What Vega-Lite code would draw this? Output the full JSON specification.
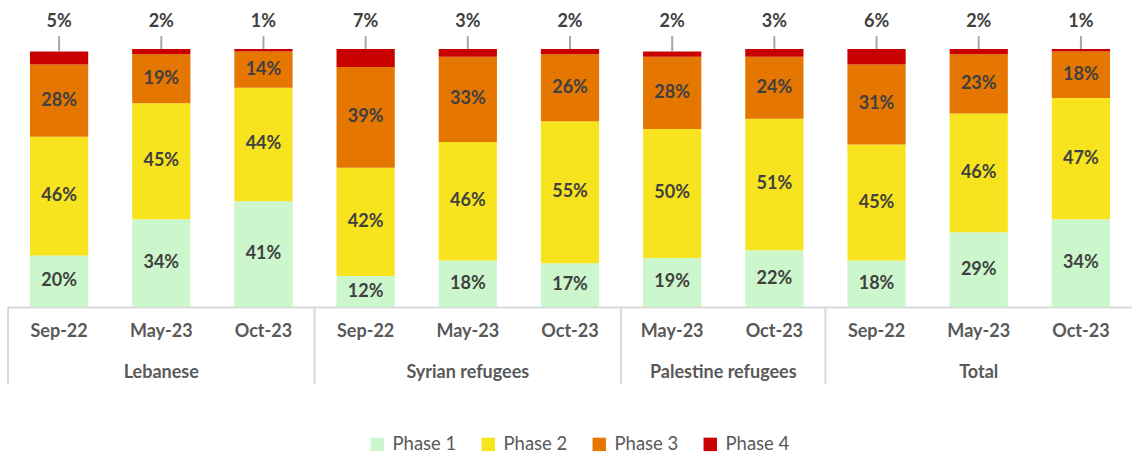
{
  "$schema": "https://vega.github.io/schema/vega-lite/v6.json",
  "width": 1124,
  "height": 258,
  "autosize": {"type": "none"},
  "padding": {"left": 8, "top": 49, "right": 0, "bottom": 152},
  "background": "white",
  "config": {"view": {"stroke": null}, "font": "Lato"},
  "datasets": {
    "bars": [
      {"bar": "Lebanese|Sep-22", "phase": "Phase 1", "value": 0.20},
      {"bar": "Lebanese|Sep-22", "phase": "Phase 2", "value": 0.46},
      {"bar": "Lebanese|Sep-22", "phase": "Phase 3", "value": 0.28},
      {"bar": "Lebanese|Sep-22", "phase": "Phase 4", "value": 0.05},
      {"bar": "Lebanese|May-23", "phase": "Phase 1", "value": 0.34},
      {"bar": "Lebanese|May-23", "phase": "Phase 2", "value": 0.45},
      {"bar": "Lebanese|May-23", "phase": "Phase 3", "value": 0.19},
      {"bar": "Lebanese|May-23", "phase": "Phase 4", "value": 0.02},
      {"bar": "Lebanese|Oct-23", "phase": "Phase 1", "value": 0.41},
      {"bar": "Lebanese|Oct-23", "phase": "Phase 2", "value": 0.44},
      {"bar": "Lebanese|Oct-23", "phase": "Phase 3", "value": 0.14},
      {"bar": "Lebanese|Oct-23", "phase": "Phase 4", "value": 0.01},
      {"bar": "Syrian refugees|Sep-22", "phase": "Phase 1", "value": 0.12},
      {"bar": "Syrian refugees|Sep-22", "phase": "Phase 2", "value": 0.42},
      {"bar": "Syrian refugees|Sep-22", "phase": "Phase 3", "value": 0.39},
      {"bar": "Syrian refugees|Sep-22", "phase": "Phase 4", "value": 0.07},
      {"bar": "Syrian refugees|May-23", "phase": "Phase 1", "value": 0.18},
      {"bar": "Syrian refugees|May-23", "phase": "Phase 2", "value": 0.46},
      {"bar": "Syrian refugees|May-23", "phase": "Phase 3", "value": 0.33},
      {"bar": "Syrian refugees|May-23", "phase": "Phase 4", "value": 0.03},
      {"bar": "Syrian refugees|Oct-23", "phase": "Phase 1", "value": 0.17},
      {"bar": "Syrian refugees|Oct-23", "phase": "Phase 2", "value": 0.55},
      {"bar": "Syrian refugees|Oct-23", "phase": "Phase 3", "value": 0.26},
      {"bar": "Syrian refugees|Oct-23", "phase": "Phase 4", "value": 0.02},
      {"bar": "Palestine refugees|May-23", "phase": "Phase 1", "value": 0.19},
      {"bar": "Palestine refugees|May-23", "phase": "Phase 2", "value": 0.50},
      {"bar": "Palestine refugees|May-23", "phase": "Phase 3", "value": 0.28},
      {"bar": "Palestine refugees|May-23", "phase": "Phase 4", "value": 0.02},
      {"bar": "Palestine refugees|Oct-23", "phase": "Phase 1", "value": 0.22},
      {"bar": "Palestine refugees|Oct-23", "phase": "Phase 2", "value": 0.51},
      {"bar": "Palestine refugees|Oct-23", "phase": "Phase 3", "value": 0.24},
      {"bar": "Palestine refugees|Oct-23", "phase": "Phase 4", "value": 0.03},
      {"bar": "Total|Sep-22", "phase": "Phase 1", "value": 0.18},
      {"bar": "Total|Sep-22", "phase": "Phase 2", "value": 0.45},
      {"bar": "Total|Sep-22", "phase": "Phase 3", "value": 0.31},
      {"bar": "Total|Sep-22", "phase": "Phase 4", "value": 0.06},
      {"bar": "Total|May-23", "phase": "Phase 1", "value": 0.29},
      {"bar": "Total|May-23", "phase": "Phase 2", "value": 0.46},
      {"bar": "Total|May-23", "phase": "Phase 3", "value": 0.23},
      {"bar": "Total|May-23", "phase": "Phase 4", "value": 0.02},
      {"bar": "Total|Oct-23", "phase": "Phase 1", "value": 0.34},
      {"bar": "Total|Oct-23", "phase": "Phase 2", "value": 0.47},
      {"bar": "Total|Oct-23", "phase": "Phase 3", "value": 0.18},
      {"bar": "Total|Oct-23", "phase": "Phase 4", "value": 0.01}
    ],
    "groups": [
      {"group": "Lebanese", "mid": 1.5},
      {"group": "Syrian refugees", "mid": 4.5},
      {"group": "Palestine refugees", "mid": 7},
      {"group": "Total", "mid": 9.5}
    ],
    "edges": [{"edge": 0}, {"edge": 3}, {"edge": 6}, {"edge": 8}]
  },
  "resolve": {"scale": {"x": "independent"}, "axis": {"x": "independent"}},
  "layer": [
    {
      "data": {"name": "bars"},
      "mark": {"type": "bar"},
      "encoding": {
        "x": {
          "field": "bar", "type": "nominal",
          "scale": {"domain": ["Lebanese|Sep-22", "Lebanese|May-23", "Lebanese|Oct-23", "Syrian refugees|Sep-22", "Syrian refugees|May-23", "Syrian refugees|Oct-23", "Palestine refugees|May-23", "Palestine refugees|Oct-23", "Total|Sep-22", "Total|May-23", "Total|Oct-23"], "paddingInner": 0.43, "paddingOuter": 0.215},
          "axis": {"title": null, "labelExpr": "split(datum.label, '|')[1]", "ticks": false, "labelAngle": 0, "domainColor": "#d9d9d9", "domainWidth": 2, "labelFont": "Lato", "labelFontSize": 18, "labelFontWeight": "bold", "labelColor": "#595959", "labelPadding": 15}
        },
        "y": {"field": "value", "type": "quantitative", "stack": "zero", "scale": {"domain": [0, 1], "nice": false}, "axis": null},
        "color": {
          "field": "phase", "type": "nominal",
          "scale": {"domain": ["Phase 1", "Phase 2", "Phase 3", "Phase 4"], "range": ["#ccf7cc", "#f8e41e", "#e57700", "#c80000"]},
          "legend": {"orient": "none", "legendX": 360, "legendY": 386, "direction": "horizontal", "title": null, "symbolType": "square", "symbolSize": 180, "symbolStrokeWidth": 0, "labelFont": "Lato", "labelFontSize": 18.5, "labelColor": "#595959", "columnPadding": 22, "labelOffset": 6, "padding": 0}
        },
        "order": {"field": "phase", "sort": "ascending"}
      }
    },
    {
      "data": {"name": "bars"},
      "transform": [{"filter": "datum.phase != 'Phase 4'"}],
      "mark": {"type": "text", "font": "Lato", "fontSize": 18, "fontWeight": "bold", "color": "#404040", "baseline": "middle"},
      "encoding": {
        "x": {
          "field": "bar", "type": "nominal",
          "scale": {"domain": ["Lebanese|Sep-22", "Lebanese|May-23", "Lebanese|Oct-23", "Syrian refugees|Sep-22", "Syrian refugees|May-23", "Syrian refugees|Oct-23", "Palestine refugees|May-23", "Palestine refugees|Oct-23", "Total|Sep-22", "Total|May-23", "Total|Oct-23"], "paddingInner": 0.43, "paddingOuter": 0.215},
          "axis": null
        },
        "y": {"field": "value", "type": "quantitative", "stack": "zero", "bandPosition": 0.5},
        "detail": {"field": "phase"},
        "order": {"field": "phase", "sort": "ascending"},
        "text": {"field": "value", "type": "quantitative", "format": ".0%"}
      }
    },
    {
      "data": {"name": "bars"},
      "transform": [{"aggregate": [{"op": "sum", "field": "value", "as": "total"}], "groupby": ["bar"]}],
      "mark": {"type": "rule", "color": "#a6a6a6", "strokeWidth": 2},
      "encoding": {
        "x": {
          "field": "bar", "type": "nominal",
          "scale": {"domain": ["Lebanese|Sep-22", "Lebanese|May-23", "Lebanese|Oct-23", "Syrian refugees|Sep-22", "Syrian refugees|May-23", "Syrian refugees|Oct-23", "Palestine refugees|May-23", "Palestine refugees|Oct-23", "Total|Sep-22", "Total|May-23", "Total|Oct-23"], "paddingInner": 0.43, "paddingOuter": 0.215},
          "axis": null
        },
        "y": {"field": "total", "type": "quantitative"},
        "y2": {"datum": 1.05}
      }
    },
    {
      "data": {"name": "bars"},
      "transform": [{"filter": "datum.phase == 'Phase 4'"}],
      "mark": {"type": "text", "font": "Lato", "fontSize": 18, "fontWeight": "bold", "color": "#404040", "baseline": "middle"},
      "encoding": {
        "x": {
          "field": "bar", "type": "nominal",
          "scale": {"domain": ["Lebanese|Sep-22", "Lebanese|May-23", "Lebanese|Oct-23", "Syrian refugees|Sep-22", "Syrian refugees|May-23", "Syrian refugees|Oct-23", "Palestine refugees|May-23", "Palestine refugees|Oct-23", "Total|Sep-22", "Total|May-23", "Total|Oct-23"], "paddingInner": 0.43, "paddingOuter": 0.215},
          "axis": null
        },
        "y": {"datum": 1.105, "type": "quantitative"},
        "text": {"field": "value", "type": "quantitative", "format": ".0%"}
      }
    },
    {
      "data": {"name": "edges"},
      "mark": {"type": "rule", "color": "#d9d9d9", "strokeWidth": 2},
      "encoding": {
        "x": {"field": "edge", "type": "quantitative", "scale": {"domain": [0, 11], "nice": false, "zero": false}, "axis": null},
        "y": {"datum": 0, "type": "quantitative"},
        "y2": {"datum": -0.30}
      }
    },
    {
      "data": {"name": "groups"},
      "mark": {"type": "text", "font": "Lato", "fontSize": 18, "fontWeight": "bold", "color": "#595959", "baseline": "middle"},
      "encoding": {
        "x": {"field": "mid", "type": "quantitative", "scale": {"domain": [0, 11], "nice": false, "zero": false}, "axis": null},
        "y": {"datum": -0.255, "type": "quantitative"},
        "text": {"field": "group"}
      }
    }
  ]
}
